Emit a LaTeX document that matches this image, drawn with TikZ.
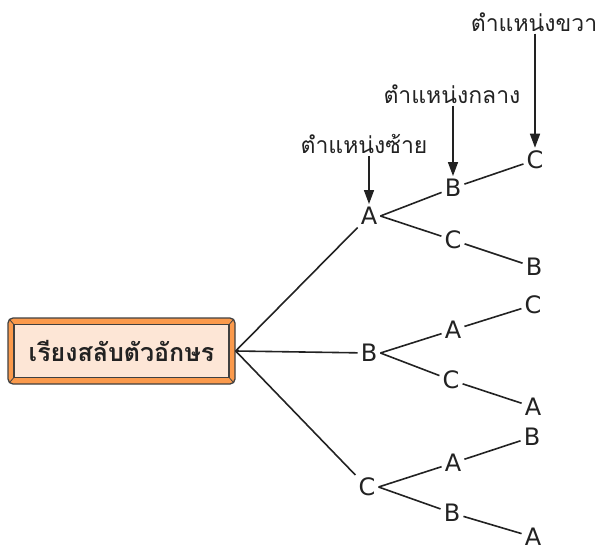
\documentclass[tikz,border=0pt]{standalone}
\usepackage{fontspec}
\usetikzlibrary{arrows.meta}
\newfontfamily\thaifont[Script=Thai]{Loma}
\newfontfamily\latfont{DejaVu Sans}
\definecolor{ink}{HTML}{222222}
\definecolor{orangeedge}{HTML}{FB9A4C}
\definecolor{peach}{HTML}{FDE6D6}
\definecolor{boxline}{HTML}{404040}
\begin{document}
\begin{tikzpicture}[x=1pt,y=-1pt,
  letter/.style={font=\latfont\fontsize{24}{24}\selectfont, text=ink, inner sep=3pt},
  lbl/.style={font=\thaifont\fontsize{23}{26}\selectfont, text=ink, inner sep=2pt},
  link/.style={draw=ink, line width=1.6pt},
  arr/.style={draw=ink, line width=1.6pt, -{Triangle[length=14pt,width=10pt]}},
  outerbox/.style={draw=boxline, fill=orangeedge, line width=1.3pt, rounded corners=5pt, minimum width=227pt, minimum height=66pt},
  innerbox/.style={draw=boxline, fill=peach, line width=1.1pt, minimum width=215pt, minimum height=53pt, font=\thaifont\bfseries\fontsize{25}{30}\selectfont, text=ink},
  bevel/.style={draw=boxline, line width=0.8pt}
]
\useasboundingbox (0,0) rectangle (600,551);
% root box
\node[outerbox] (root) at (121.5,351) {};
\node[innerbox] (rootin) at (root.center) {เรียงสลับตัวอักษร};
\draw[bevel] ([shift={(2,2)}]root.north west) -- (rootin.north west);
\draw[bevel] ([shift={(-2,2)}]root.north east) -- (rootin.north east);
\draw[bevel] ([shift={(2,-2)}]root.south west) -- (rootin.south west);
\draw[bevel] ([shift={(-2,-2)}]root.south east) -- (rootin.south east);
% level 1
\node[letter] (a1) at (369,216) {A};
\node[letter] (b1) at (369,353) {B};
\node[letter] (c1) at (367,487) {C};
% level 2
\node[letter] (a1b) at (453,188) {B};
\node[letter] (a1c) at (453,240) {C};
\node[letter] (b1a) at (453,330) {A};
\node[letter] (b1c) at (451,380) {C};
\node[letter] (c1a) at (453,463) {A};
\node[letter] (c1b) at (452,513) {B};
% level 3
\node[letter] (a1bc) at (535,160) {C};
\node[letter] (a1cb) at (534,267) {B};
\node[letter] (b1ac) at (533,305) {C};
\node[letter] (b1ca) at (533,407) {A};
\node[letter] (c1ab) at (532,437) {B};
\node[letter] (c1ba) at (533,537) {A};
% links
\draw[link] (root.east) -- (a1);
\draw[link] (root.east) -- (b1);
\draw[link] (root.east) -- (c1);
\draw[link] (a1.east) -- (a1b);
\draw[link] (a1.east) -- (a1c);
\draw[link] (b1.east) -- (b1a);
\draw[link] (b1.east) -- (b1c);
\draw[link] (c1.east) -- (c1a);
\draw[link] (c1.east) -- (c1b);
\draw[link] (a1b) -- (a1bc);
\draw[link] (a1c) -- (a1cb);
\draw[link] (b1a) -- (b1ac);
\draw[link] (b1c) -- (b1ca);
\draw[link] (c1a) -- (c1ab);
\draw[link] (c1b) -- (c1ba);
% position labels
\node[lbl] (lblR) at (534,22) {ตำแหน่งขวา};
\node[lbl] (lblM) at (452,94) {ตำแหน่งกลาง};
\node[lbl] (lblL) at (364,144) {ตำแหน่งซ้าย};
\draw[arr] (lblR.south -| a1bc) -- (a1bc.north);
\draw[arr] (lblM.south -| a1b) -- (a1b.north);
\draw[arr] (lblL.south -| a1) -- (a1.north);
\end{tikzpicture}
\end{document}
